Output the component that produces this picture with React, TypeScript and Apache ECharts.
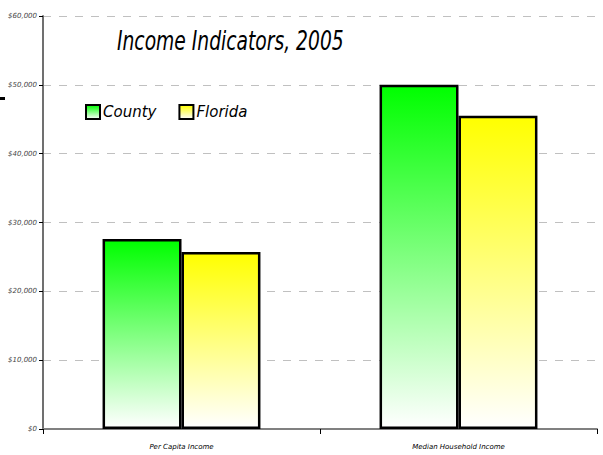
import React, { useEffect, useRef } from "react";
import * as echarts from "echarts";

const categories = ["Per Capita Income", "Median Household Income"];
const countyValues = [27600, 50000];
const floridaValues = [25700, 45500];
const yTicks = [0, 10000, 20000, 30000, 40000, 50000, 60000];
const titleText = "Income Indicators, 2005";

const FONT = "'DejaVu Sans', sans-serif";

function grad(c: string) {
  return new echarts.graphic.LinearGradient(0, 0, 0, 1, [
    { offset: 0, color: c },
    { offset: 1, color: "#ffffff" },
  ]);
}

export default function App() {
  const ref = useRef<HTMLDivElement>(null);
  useEffect(() => {
    if (!ref.current) return;
    const chart = echarts.init(ref.current, undefined, { renderer: "svg" });
    chart.setOption({
      animation: false,
      backgroundColor: "#ffffff",
      legend: {
        left: 80,
        top: 99,
        icon: "rect",
        itemWidth: 14,
        itemHeight: 14,
        itemGap: 22,
        textStyle: {
          fontFamily: FONT,
          fontStyle: "italic",
          fontSize: 15,
          color: "#000",
          padding: [0, 0, 0, -2],
        },
        data: [
          { name: "County", itemStyle: { color: grad("#00ff00"), borderColor: "#000", borderWidth: 2 } },
          { name: "Florida", itemStyle: { color: grad("#ffff00"), borderColor: "#000", borderWidth: 2 } },
        ],
      },
      grid: { left: 43, right: 6, top: 16, bottom: 26, containLabel: false },
      xAxis: {
        type: "category",
        data: categories,
        axisLine: { lineStyle: { color: "#808080", width: 2 } },
        axisTick: { show: true, length: 5, lineStyle: { color: "#000" } },
        axisLabel: {
          fontFamily: FONT,
          fontStyle: "italic",
          fontSize: 7,
          color: "#000",
          margin: 14,
        },
      },
      yAxis: {
        type: "value",
        min: 0,
        max: 60000,
        interval: 10000,
        axisLine: { show: true, lineStyle: { color: "#707070", width: 2 } },
        axisTick: { show: true, length: 4, lineStyle: { color: "#000" } },
        splitLine: { lineStyle: { color: "#c0c0c0", type: [8, 8] } },
        axisLabel: {
          fontFamily: FONT,
          fontStyle: "italic",
          fontSize: 7,
          color: "#444444",
          margin: 6,
          formatter: (v: number) =>
            yTicks.includes(v) ? "$" + v.toLocaleString("en-US") : "",
        },
      },
      series: [
        {
          name: "County",
          type: "bar",
          data: countyValues,
          barGap: "0%",
          barCategoryGap: "43%",
          itemStyle: { color: grad("#00ff00"), borderColor: "#000", borderWidth: 2.5 },
        },
        {
          name: "Florida",
          type: "bar",
          data: floridaValues,
          barGap: "0%",
          barCategoryGap: "43%",
          itemStyle: { color: grad("#ffff00"), borderColor: "#000", borderWidth: 2.5 },
        },
      ],
      graphic: [
        {
          type: "text",
          x: 117,
          y: 28,
          scaleX: 0.72,
          style: {
            text: titleText,
            fontFamily: FONT,
            fontStyle: "italic",
            fontSize: 26,
            fill: "#000",
          },
        },
        { type: "rect", left: 0, top: 97, shape: { width: 5, height: 3 }, style: { fill: "#000" } },
      ],
    });
    return () => chart.dispose();
  }, []);
  return <div ref={ref} style={{ width: 603, height: 455, position: "absolute", left: 0, top: 0 }} />;
}
